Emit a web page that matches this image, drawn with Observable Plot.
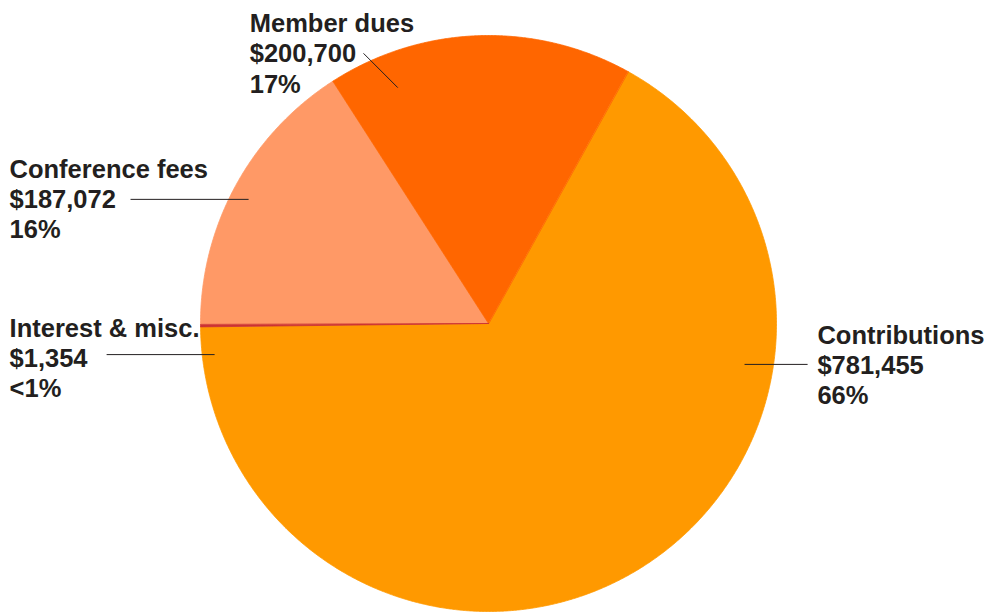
<!DOCTYPE html>
<html>
<head>
<meta charset="utf-8">
<script src="https://cdn.jsdelivr.net/npm/d3@7"></script>
<script src="https://cdn.jsdelivr.net/npm/@observablehq/plot@0.6"></script>
<style>
  html, body { margin: 0; padding: 0; background: #ffffff; }
  #chart svg { display: block; }
</style>
</head>
<body>
<div id="chart"></div>
<script>
// ---- Data ----
const categories = ["Contributions", "Interest & misc.", "Conference fees", "Member dues"];
const amounts = [781455, 1354, 187072, 200700];
const shareLabels = ["66%", "<1%", "16%", "17%"];
const sliceColors = ["#ff9900", "#cc3333", "#ff9966", "#ff6600"];

// ---- Layout (pie units: centre 0,0, radius 1, y up) ----
const startDeg = 29;
const labelAt = {
  "Contributions":    {tx: 1.142,  ty: 0.002,  x1: 0.889,  y1: -0.142, x2: 1.108,  y2: -0.142},
  "Interest & misc.": {tx: -1.663, ty: 0.029,  x1: -1.326, y1: -0.108, x2: -0.951, y2: -0.108},
  "Conference fees":  {tx: -1.663, ty: 0.581,  x1: -1.243, y1: 0.431,  x2: -0.833, y2: 0.431},
  "Member dues":      {tx: -0.829, ty: 1.085,  x1: -0.434, y1: 0.938,  x2: -0.315, y2: 0.819}
};

const rows = categories.map((name, i) => ({name, amount: amounts[i], share: shareLabels[i]}));

const pie = d3.pie().sort(null).value(d => d.amount)
  .startAngle(startDeg * Math.PI / 180)
  .endAngle(startDeg * Math.PI / 180 + 2 * Math.PI);
const arcs = pie(rows);

// polygon outline points for each slice
const slicePoints = [];
const drawOrder = ["Contributions", "Conference fees", "Member dues", "Interest & misc."];
for (const nm of drawOrder) {
  const a = arcs.find(s => s.data.name === nm);
  const n = Math.max(2, Math.ceil((a.endAngle - a.startAngle) / 0.005));
  slicePoints.push({name: nm, x: 0, y: 0});
  for (let k = 0; k <= n; k++) {
    const t = a.startAngle + (a.endAngle - a.startAngle) * k / n;
    slicePoints.push({name: nm, x: Math.sin(t), y: Math.cos(t)});
  }
}

const fmt = d3.format("$,");
const labels = rows.map(d => ({...d, ...labelAt[d.name]}));

const chart = Plot.plot({
  width: 988,
  height: 612,
  marginLeft: 200,
  marginRight: 212,
  marginTop: 35,
  marginBottom: 1,
  x: {domain: [-1, 1], axis: null},
  y: {domain: [-1, 1], axis: null},
  color: {domain: categories, range: sliceColors},
  style: {fontFamily: "'Liberation Sans', Arial, sans-serif", background: "#ffffff"},
  marks: [
    Plot.line(slicePoints, {x: "x", y: "y", z: "name", fill: "name", stroke: "name", strokeWidth: 0.8, curve: "linear-closed"}),
    Plot.link(labels, {x1: "x1", y1: "y1", x2: "x2", y2: "y2", stroke: "#231f20", strokeWidth: 1}),
    Plot.text(labels, {
      x: "tx", y: "ty",
      text: d => `${d.name}\n${fmt(d.amount)}\n${d.share}`,
      textAnchor: "start", lineAnchor: "top", lineHeight: 1.18,
      fontSize: 25.5, fontWeight: "bold", fill: "#231f20"
    })
  ]
});
document.getElementById("chart").appendChild(chart);
</script>
</body>
</html>
